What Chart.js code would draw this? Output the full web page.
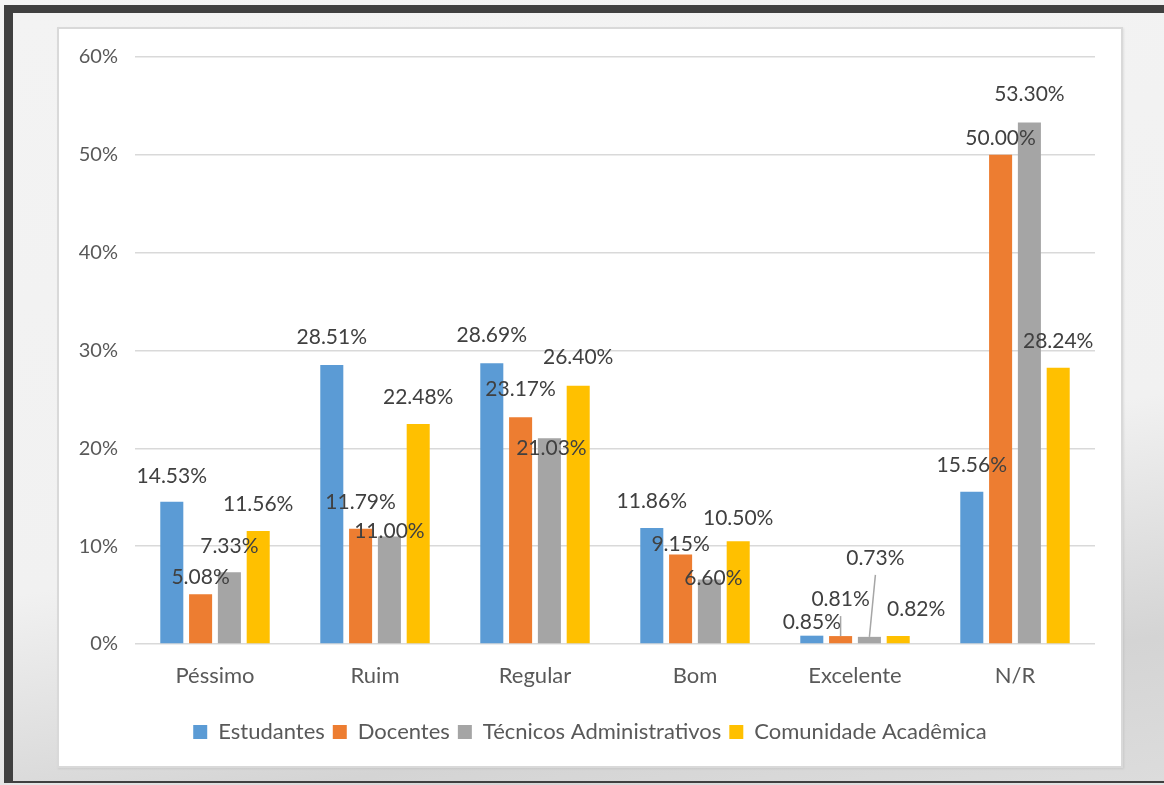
<!DOCTYPE html>
<html>
<head>
<meta charset="utf-8">
<script src="https://cdn.jsdelivr.net/npm/chart.js@4.4.1/dist/chart.umd.min.js"></script>
<style>
  html, body { margin: 0; padding: 0; }
  body {
    width: 1164px; height: 785px; overflow: hidden; position: relative;
    background: linear-gradient(160deg, #f4f4f4 0%, #efefef 55%, #d6d6d6 80%, #e4e4e4 100%);
  }
  #frame {
    position: absolute; left: 4px; top: 5px; width: 1160px; height: 778px;
    border-top: 8px solid #404040; border-left: 9px solid #404040; border-bottom: 2px solid #404040;
    box-sizing: border-box;
    background: linear-gradient(170deg, #f3f3f3 0%, #f1f1f1 60%, #d4d4d4 85%, #dcdcdc 100%);
  }
  #panel {
    position: absolute; left: 57px; top: 27px; width: 1066px; height: 741px;
    background: #fff; border: 2px solid #d9d9d9; box-sizing: border-box;
    box-shadow: 1px 1px 2px rgba(0,0,0,.08);
  }
  #wrap { position: absolute; left: 0; top: 0; width: 1164px; height: 785px; }
</style>
</head>
<body>
<div id="frame"></div>
<div id="panel"></div>
<div id="wrap"><canvas id="chart" width="1164" height="785"></canvas></div>
<script>
// ─── Data ────────────────────────────────────────────────────────────────────
const CATEGORIES = ["Péssimo", "Ruim", "Regular", "Bom", "Excelente", "N/R"];
const SERIES     = ["Estudantes", "Docentes", "Técnicos Administrativos", "Comunidade Acadêmica"];

const ESTUDANTES = [14.53, 28.51, 28.69, 11.86, 0.85, 15.56];
const DOCENTES   = [5.08, 11.79, 23.17, 9.15, 0.81, 50.00];
const TECNICOS   = [7.33, 11.00, 21.03, 6.60, 0.73, 53.30];
const COMUNIDADE = [11.56, 22.48, 26.40, 10.50, 0.82, 28.24];

const Y_TICKS = [0, 10, 20, 30, 40, 50, 60];

const COLORS = ["#5b9bd5", "#ed7d31", "#a5a5a5", "#ffc000"];

// label nudges (px, from the top-centre of each bar) as placed in the original
const LABEL_DX = [
    [0, 0, 0, 0, 0, 0],
    [0, 0, 0, 0, 0, 0],
    [0, 0, 2, 4, 6, 0],
    [0, 0, 0, 0, 18, 0],
];
const LABEL_DY = [
    [-26, -28, -28, -27, -13, -27],
    [-17, -26, -28, -10, -37, -17],
    [-26, -5, 10, -1, -79, -28],
    [-27, -27, -28, -23, -27, -26],
];
// leader lines: [series, category]
const LEADERS = [[1, 4], [2, 4]];

const FONT = "Lato";

// ─── Data labels ─────────────────────────────────────────────────────────────
const barLabels = {
    id: "barLabels",
    afterDatasetsDraw(chart) {
        const ctx = chart.ctx;
        ctx.save();
        ctx.font = `21px ${FONT}`;
        ctx.textAlign = "center";
        ctx.textBaseline = "middle";
        chart.data.datasets.forEach((ds, s) => {
            const meta = chart.getDatasetMeta(s);
            meta.data.forEach((bar, i) => {
                const lx = bar.x + LABEL_DX[s][i];
                const ly = bar.y + LABEL_DY[s][i];
                const isLeader = LEADERS.some(([ls, li]) => ls === s && li === i);
                if (isLeader) {
                    ctx.strokeStyle = "#a6a6a6";
                    ctx.lineWidth = 1.5;
                    ctx.beginPath();
                    ctx.moveTo(lx, ly + 17);
                    ctx.lineTo(bar.x, bar.y);
                    ctx.stroke();
                }
                ctx.fillStyle = "#404040";
                ctx.fillText(ds.data[i].toFixed(2) + "%", lx, ly);
            });
        });
        ctx.restore();
    },
};

const datasets = [ESTUDANTES, DOCENTES, TECNICOS, COMUNIDADE].map((vals, k) => ({
    label: SERIES[k],
    data: vals,
    backgroundColor: COLORS[k],
    categoryPercentage: 0.72,
    barPercentage: 0.8,
}));

new Chart(document.getElementById("chart"), {
    type: "bar",
    data: { labels: CATEGORIES, datasets },
    plugins: [barLabels],
    options: {
        responsive: false,
        animation: false,
        layout: { padding: { left: 57, right: 41, top: 57, bottom: 32 } },
        plugins: {
            tooltip: { enabled: false },
            legend: {
                position: "bottom",
                labels: {
                    boxWidth: 14, boxHeight: 14, padding: 8,
                    color: "#595959",
                    font: { family: FONT, size: 22 },
                },
            },
        },
        scales: {
            y: {
                min: 0, max: 60,
                afterBuildTicks: axis => { axis.ticks = Y_TICKS.map(v => ({ value: v })); },
                afterFit: axis => { axis.width = 78; },
                ticks: {
                    padding: 17,
                    color: "#595959",
                    font: { family: FONT, size: 20 },
                    callback: v => v + "%",
                },
                grid: { color: "#d9d9d9", lineWidth: 1.5, drawTicks: false },
                border: { display: false },
            },
            // empty right-hand spacer so the legend centres on the white panel
            spacer: {
                type: "linear", position: "right",
                afterFit: axis => { axis.width = 28; },
                ticks: { display: false },
                grid: { display: false, drawTicks: false },
                border: { display: false },
            },
            x: {
                afterFit: axis => { axis.height = 69; },
                ticks: {
                    padding: 11,
                    color: "#595959",
                    font: { family: FONT, size: 22 },
                },
                grid: { display: false },
                border: { display: false },
            },
        },
    },
});
</script>
</body>
</html>
